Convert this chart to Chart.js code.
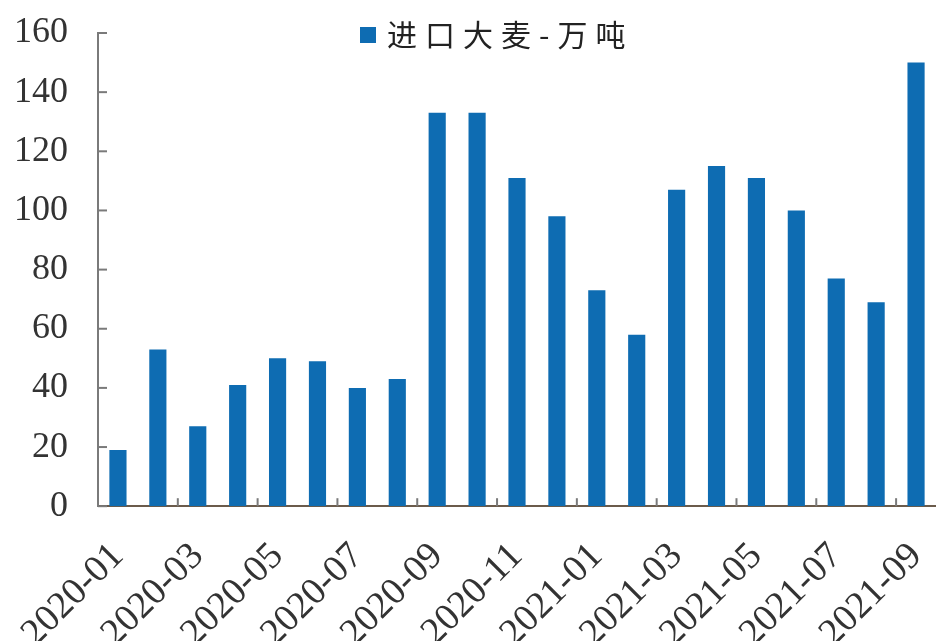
<!DOCTYPE html>
<html>
<head>
<meta charset="utf-8">
<script src="https://cdn.jsdelivr.net/npm/chart.js@4/dist/chart.umd.min.js"></script>
<style>
  html, body { margin: 0; padding: 0; background: #fff; }
  #wrap { width: 936px; height: 641px; }
</style>
</head>
<body>
<div id="wrap"><canvas id="myChart"></canvas></div>
<script>
// 进口大麦 monthly, 万吨
var months = ['2020-01','2020-02','2020-03','2020-04','2020-05','2020-06','2020-07',
              '2020-08','2020-09','2020-10','2020-11','2020-12','2021-01','2021-02',
              '2021-03','2021-04','2021-05','2021-06','2021-07','2021-08','2021-09'];
var barley = [19, 53, 27, 41, 50, 49, 40, 43, 133, 133, 111, 98, 73, 58,
              107, 115, 111, 100, 77, 69, 150];
var seriesName = '进口大麦-万吨';
var barColor = '#0e6cb2';

var serif = '"Liberation Serif", "Times New Roman", serif';

// small inward tick marks + hand-placed legend like the original
var axisDeco = {
    id: 'axisDeco',
    afterDraw: function (chart) {
        var c = chart.ctx, x = chart.scales.x, y = chart.scales.y, a = chart.chartArea;
        c.save();
        c.strokeStyle = '#7a7a7a';
        c.lineWidth = 2;
        y.ticks.forEach(function (t) {
            var py = y.getPixelForValue(t.value);
            c.beginPath(); c.moveTo(a.left, py); c.lineTo(a.left + 9, py); c.stroke();
        });
        for (var i = 2; i < months.length; i += 2) {
            var px = (x.getPixelForValue(i - 1) + x.getPixelForValue(i)) / 2;
            c.beginPath(); c.moveTo(px, a.bottom); c.lineTo(px, a.bottom - 8); c.stroke();
        }
        // legend
        var ds = chart.data.datasets[0];
        c.fillStyle = ds.backgroundColor;
        c.fillRect(360, 27, 16, 16);
        c.fillStyle = '#222';
        c.font = '30px "Noto Sans CJK SC"';
        c.letterSpacing = '8px';
        c.textBaseline = 'middle';
        c.fillText(ds.label, 387, 35);
        c.restore();
    }
};

new Chart(document.getElementById('myChart'), {
    type: 'bar',
    data: {
        labels: months,
        datasets: [{
            label: seriesName,
            data: barley,
            backgroundColor: barColor,
            borderWidth: 0,
            barPercentage: 0.43,
            categoryPercentage: 1
        }]
    },
    options: {
        responsive: true,
        maintainAspectRatio: false,
        animation: false,
        layout: { padding: { left: -16, right: 0, top: 33, bottom: -43 } },
        plugins: {
            legend: { display: false },
            tooltip: { enabled: false }
        },
        scales: {
            x: {
                offset: true,
                grid: { display: false, drawTicks: false },
                border: { color: '#6b5b4b', width: 2 },
                afterFit: function (s) { s.paddingLeft = 0; s.paddingRight = 0; },
                ticks: {
                    autoSkip: false,
                    maxRotation: 45,
                    minRotation: 45,
                    padding: 28,
                    color: '#333',
                    font: { family: serif, size: 38 },
                    callback: function (v, i) { return i % 2 === 0 ? months[i] : ''; }
                }
            },
            y: {
                min: 0,
                max: 160,
                grid: { display: false, drawTicks: false },
                border: { color: '#7a7a7a', width: 2 },
                afterFit: function (s) { s.paddingTop = 0; s.paddingBottom = 0; },
                ticks: {
                    stepSize: 20,
                    padding: 30,
                    color: '#333',
                    font: { family: serif, size: 36 }
                }
            }
        }
    },
    plugins: [axisDeco]
});
</script>
</body>
</html>
